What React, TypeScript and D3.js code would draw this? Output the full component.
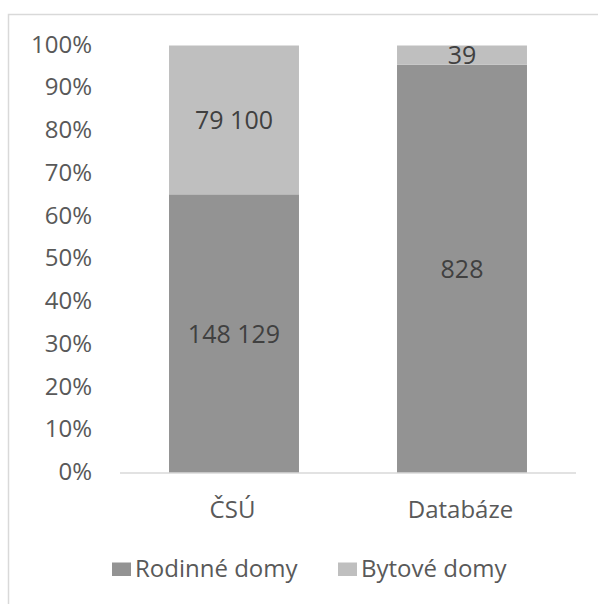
import React from "react";
import * as d3 from "d3";

// Building counts by source and building type
const categories = ["ČSÚ", "Databáze"];
const seriesNames = ["Rodinné domy", "Bytové domy"];
const rodinneDomy = [148129, 828];
const bytoveDomy = [79100, 39];
const yTicks = [0, 0.1, 0.2, 0.3, 0.4, 0.5, 0.6, 0.7, 0.8, 0.9, 1];

const colors = ["#939393", "#bfbfbf"];
const FONT = "'Open Sans', Lato, sans-serif";

const fmt = (v: number) => d3.format(",")(v).replace(/,/g, " ");

export default function App() {
  const W = 598;
  const H = 604;
  const x = d3.scaleBand().domain(categories).range([120, 576]).paddingInner(0.43).paddingOuter(0.215);
  const y = d3.scaleLinear().domain([0, 1]).range([473, 45.5]);

  const rows = categories.map((c, i) => {
    const total = rodinneDomy[i] + bytoveDomy[i];
    return { cat: c, Rodinne: rodinneDomy[i] / total, Bytove: bytoveDomy[i] / total, raw: [rodinneDomy[i], bytoveDomy[i]] };
  });
  const stack = d3.stack<any>().keys(["Rodinne", "Bytove"])(rows);
  const legendX = [112, 338];

  return (
    <div style={{ position: "absolute", left: 0, top: 0 }}>
      <svg width={W} height={H} style={{ display: "block", background: "#fff" }} fontFamily={FONT}>
        <rect x={8.5} y={14.5} width={620} height={620} fill="#fff" stroke="#d9d9d9" strokeWidth={1.5} />
        {yTicks.map((t) => (
          <text key={t} x={92} y={y(t)} dy="0.3em" textAnchor="end" fontSize={24} fill="#595959">
            {d3.format(".0%")(t)}
          </text>
        ))}
        {stack.map((layer, si) =>
          layer.map((d, i) => (
            <rect
              key={`${si}-${i}`}
              x={x(categories[i])}
              y={y(d[1])}
              width={x.bandwidth()}
              height={y(d[0]) - y(d[1])}
              fill={colors[si]}
            />
          ))
        )}
        <line x1={120} x2={576} y1={y(0)} y2={y(0)} stroke="#d9d9d9" strokeWidth={1.5} />
        {stack.map((layer, si) =>
          layer.map((d, i) => (
            <text
              key={`l-${si}-${i}`}
              x={(x(categories[i]) ?? 0) + x.bandwidth() / 2}
              y={(y(d[0]) + y(d[1])) / 2}
              dy="0.36em"
              textAnchor="middle"
              fontSize={25}
              fill="#404040"
            >
              {fmt(rows[i].raw[si])}
            </text>
          ))
        )}
        {categories.map((c) => (
          <text key={c} x={(x(c) ?? 0) + x.bandwidth() / 2 - 1.5} y={518} textAnchor="middle" fontSize={24} fill="#595959">
            {c}
          </text>
        ))}
        {seriesNames.map((s, i) => (
          <g key={s}>
            <rect x={legendX[i]} y={562.5} width={19} height={13.5} fill={colors[i]} />
            <text x={legendX[i] + 23} y={577} fontSize={24} fill="#595959">
              {s}
            </text>
          </g>
        ))}
      </svg>
    </div>
  );
}
